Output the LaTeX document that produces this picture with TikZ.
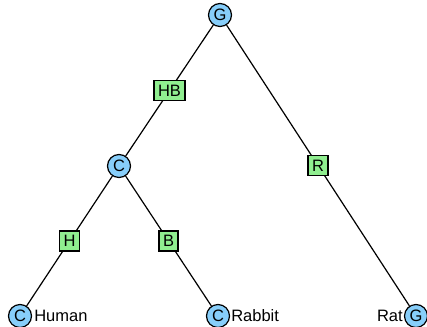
\documentclass[tikz,border=0pt]{standalone}
\usepackage{fontspec}
\setmainfont{Liberation Sans}
\usetikzlibrary{calc}
\definecolor{nodeblue}{RGB}{135,206,250}
\definecolor{edgegreen}{RGB}{144,238,144}
\begin{document}
\begin{tikzpicture}[x=1pt,y=-1pt,
  treenode/.style={circle,draw=black,line width=1.2pt,fill=nodeblue,minimum size=23pt,inner sep=0pt,font=\fontsize{16.5}{16.5}\selectfont},
  edgelabel/.style={rectangle,draw=black,line width=1.2pt,fill=edgegreen,minimum width=19pt,minimum height=20pt,inner xsep=4pt,inner ysep=1pt,font=\fontsize{16.5}{16.5}\selectfont},
  leaftext/.style={inner sep=0pt,font=\fontsize{16.5}{16.5}\selectfont},
  branch/.style={line width=1.2pt}]
\useasboundingbox (0,0) rectangle (427,326);
% internal and leaf nodes
\node[treenode] (g) at (220,15) {G};
\node[treenode] (c) at (119,166) {C};
\node[treenode] (human) at (20,316) {C};
\node[treenode] (rabbit) at (218,316) {C};
\node[treenode] (rat) at (416,316) {G};
% branches
\draw[branch] (g) -- (c);
\draw[branch] (g) -- (rat);
\draw[branch] (c) -- (human);
\draw[branch] (c) -- (rabbit);
% branch labels
\node[edgelabel] (hb) at ($(g)!0.5!(c)$) {HB};
\node[edgelabel] (r) at ($(g)!0.5!(rat)$) {R};
\node[edgelabel] (h) at ($(c)!0.5!(human)$) {H};
\node[edgelabel] (b) at ($(c)!0.5!(rabbit)$) {B};
% leaf names
\node[leaftext,anchor=west] (humanlbl) at ([xshift=2pt]human.east) {Human};
\node[leaftext,anchor=west] (rabbitlbl) at ([xshift=1pt]rabbit.east) {Rabbit};
\node[leaftext,anchor=east] (ratlbl) at ([xshift=-1pt]rat.west) {Rat};
\end{tikzpicture}
\end{document}
